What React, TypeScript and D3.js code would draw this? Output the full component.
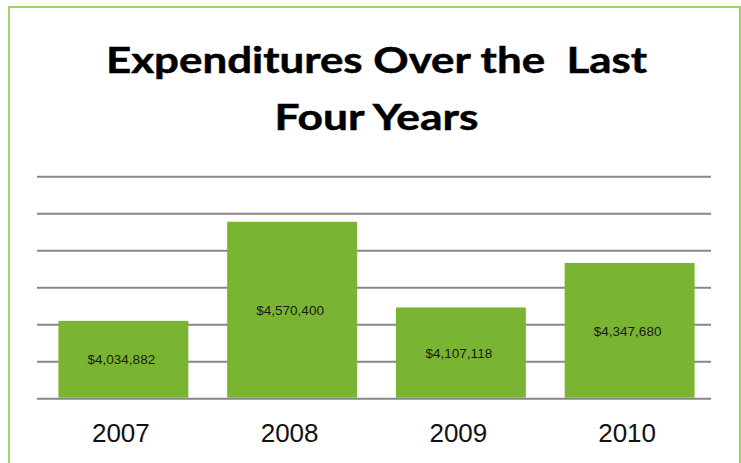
import * as d3 from "d3";
import React, { useEffect, useRef } from "react";

const years = ["2007", "2008", "2009", "2010"];
const expenditures = [4034882, 4570400, 4107118, 4347680];
const titleLines = ["Expenditures Over the  Last", "Four Years"];

const WIDTH = 741;
const HEIGHT = 463;

const App: React.FC = () => {
  const chartRef = useRef<SVGSVGElement>(null);

  useEffect(() => {
    if (!chartRef.current) return;
    const svg = d3.select(chartRef.current);
    svg.selectAll("*").remove();

    const data = years.map((year, i) => ({ year, value: expenditures[i] }));

    // axis is hidden in the original, min picked so the bars sit where they do
    const yMin = 3614000;
    const step = 200000;
    const yMax = yMin + step * 6;

    const x = d3
      .scaleBand()
      .domain(years)
      .range([39, 714])
      .paddingInner(0.23)
      .paddingOuter(0.115);

    const y = d3.scaleLinear().domain([yMin, yMax]).range([398.7, 176.7]);

    // outer frame
    svg
      .append("rect")
      .attr("x", 9)
      .attr("y", 7)
      .attr("width", 731)
      .attr("height", 480)
      .attr("fill", "#fff")
      .attr("stroke", "#9fd46a")
      .attr("stroke-width", 2);

    // title (Calibri-ish: heavier + narrower, so squeeze and thicken a bit)
    const titleWidths = [541, 204];
    svg
      .selectAll(".title")
      .data(titleLines)
      .enter()
      .append("text")
      .attr("class", "title")
      .attr("x", 376.5)
      .attr("y", (_, i) => 72.5 + i * 57)
      .attr("text-anchor", "middle")
      .attr("textLength", (_, i) => titleWidths[i])
      .attr("lengthAdjust", "spacingAndGlyphs")
      .style("white-space", "pre")
      .style("font-family", "Lato, 'Open Sans', sans-serif")
      .style("font-weight", 700)
      .style("font-size", "37px")
      .style("fill", "#000")
      .style("stroke", "#000")
      .style("stroke-width", 0.5)
      .text((d) => d);

    // gridlines
    svg
      .append("g")
      .selectAll("line")
      .data(d3.range(yMin, yMax + 1, step))
      .enter()
      .append("line")
      .attr("x1", 37)
      .attr("x2", 711)
      .attr("y1", (d) => y(d))
      .attr("y2", (d) => y(d))
      .attr("stroke", "#878787")
      .attr("stroke-width", 2);

    // bars
    svg
      .append("g")
      .selectAll("rect")
      .data(data)
      .enter()
      .append("rect")
      .attr("x", (d) => x(d.year) || 0)
      .attr("y", (d) => y(d.value))
      .attr("width", x.bandwidth())
      .attr("height", (d) => y(yMin) - y(d.value) - 1)
      .attr("fill", "#7ab433");

    // value labels inside the bars
    svg
      .append("g")
      .selectAll("text")
      .data(data)
      .enter()
      .append("text")
      .attr("x", (d) => (x(d.year) || 0) + x.bandwidth() / 2 - 2)
      .attr("y", (d) => (y(d.value) + y(yMin)) / 2)
      .attr("dy", ".35em")
      .attr("text-anchor", "middle")
      .style("font-family", "'Liberation Sans', Arial, sans-serif")
      .style("font-size", "13.5px")
      .style("fill", "#1a1a1a")
      .text((d) => "$" + d3.format(",")(d.value));

    // category labels
    svg
      .append("g")
      .selectAll("text")
      .data(years)
      .enter()
      .append("text")
      .attr("x", (d) => (x(d) || 0) + x.bandwidth() / 2 - 2.5)
      .attr("y", 441.7)
      .attr("text-anchor", "middle")
      .style("font-family", "'Liberation Sans', Arial, sans-serif")
      .style("font-size", "26px")
      .style("fill", "#111")
      .text((d) => d);
  }, []);

  return (
    <svg
      ref={chartRef}
      width={WIDTH}
      height={HEIGHT}
      style={{ position: "absolute", left: 0, top: 0 }}
    />
  );
};

export default App;
